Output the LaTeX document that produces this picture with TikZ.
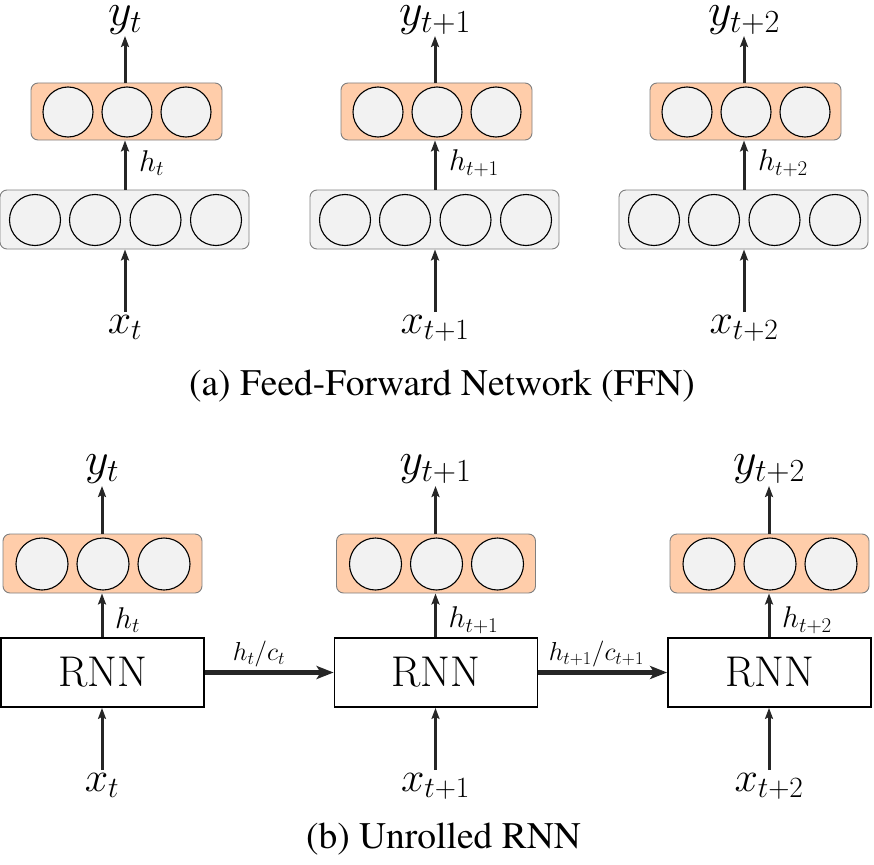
\documentclass[tikz,border=0pt]{standalone}
\usepackage{fix-cm}
\usepackage[T1]{fontenc}
\usepackage[no-math]{fontspec}
\usetikzlibrary{arrows.meta}
\definecolor{peach}{HTML}{FFCDAA}
\definecolor{cellgray}{HTML}{F2F2F2}
\definecolor{boxedge}{HTML}{7F7F7F}
\newcommand{\capfnt}{\fontencoding{T1}\fontfamily{ptm}\selectfont}
\tikzset{
  cell/.style={circle, draw=black, line width=1.1pt, fill=cellgray, minimum size=51pt, inner sep=0pt},
  outlayer/.style={draw=boxedge, fill=peach, rounded corners=7pt, line width=0.9pt, inner sep=0pt},
  inlayer/.style={draw=boxedge, fill=cellgray, rounded corners=7pt, line width=0.9pt, inner sep=0pt},
  rnnbox/.style={draw=black, fill=white, line width=1.8pt, minimum width=203pt, minimum height=69pt, inner sep=0pt, font=\fontsize{43}{50}\selectfont},
  flow/.style={-{Stealth[length=11pt,width=8pt,inset=2pt]}, line width=3pt, draw=black!85},
  statearrow/.style={-{Stealth[length=17pt,width=13pt,inset=4pt]}, line width=5pt, draw=black!85},
  xlab/.style={font=\fontsize{42}{50}\selectfont, inner sep=0pt},
  ylab/.style={font=\fontsize{46}{55}\selectfont, inner sep=0pt},
  hlab/.style={font=\fontsize{30}{36}\selectfont, inner sep=0pt, anchor=west},
  statelab/.style={font=\fontsize{26}{31}\selectfont, inner sep=3pt, above},
  caption/.style={font=\capfnt\fontsize{37.5}{45}\selectfont, inner sep=0pt, anchor=base}
}
\begin{document}
\begin{tikzpicture}[x=1pt,y=-1pt]
\useasboundingbox (0,0) rectangle (874,864);
% ---------- (a) Feed-forward network ----------
\foreach \i/\c/\s in {1/125/t, 2/435/{t+1}, 3/744/{t+2}} {
  \node[inlayer, minimum width=249pt, minimum height=59pt] (gin\i) at (\c-0.5,219.5) {};
  \node[cell] (gina\i) at (\c-90,220) {};
  \node[cell] (ginb\i) at (\c-30,220) {};
  \node[cell] (ginc\i) at (\c+30.5,220) {};
  \node[cell] (gind\i) at (\c+91,220) {};
  \node[outlayer, minimum width=191pt, minimum height=57pt] (gout\i) at (\c+1.5,111.5) {};
  \node[cell, minimum size=50pt] (gouta\i) at (\c-57,112) {};
  \node[cell, minimum size=50pt] (goutb\i) at (\c+2,112) {};
  \node[cell, minimum size=50pt] (goutc\i) at (\c+61,112) {};
  \node[xlab, anchor=north] (gx\i) at (\c,315) {$x_{\s}$};
  \node[ylab, anchor=south] (gy\i) at (\c,35) {$y_{\s}$};
  \node[hlab] (gh\i) at (\c+14,163) {$h_{\s}$};
  \draw[flow] ([yshift=3pt]gx\i.north) -- (gx\i.north |- gin\i.south);
  \draw[flow] (gx\i.north |- gin\i.north) -- (gx\i.north |- gout\i.south);
  \draw[flow] (gx\i.north |- gout\i.north) -- ([yshift=-1pt]gy\i.south);
}
\node[caption] (capa) at (442,395) {(a) Feed-Forward Network (FFN)};
% ---------- (b) Unrolled RNN ----------
\foreach \i/\c/\s in {1/102/t, 2/435.5/{t+1}, 3/769/{t+2}} {
  \node[outlayer, minimum width=199pt, minimum height=59pt] (bout\i) at (\c+0.5,563.5) {};
  \node[cell, minimum size=52pt] (bouta\i) at (\c-60,564) {};
  \node[cell, minimum size=52pt] (boutb\i) at (\c+1,564) {};
  \node[cell, minimum size=52pt] (boutc\i) at (\c+62,564) {};
  \node[rnnbox] (rnn\i) at (\c+0.5,672.5) {RNN};
  \node[xlab, anchor=north] (bx\i) at (\c,773) {$x_{\s}$};
  \node[ylab, anchor=south] (by\i) at (\c,484) {$y_{\s}$};
  \node[hlab] (bh\i) at (\c+13,620) {$h_{\s}$};
  \draw[flow] ([yshift=3pt]bx\i.north) -- (bx\i.north |- rnn\i.south);
  \draw[flow] (bx\i.north |- rnn\i.north) -- (bx\i.north |- bout\i.south);
  \draw[flow] (bx\i.north |- bout\i.north) -- ([yshift=-2pt]by\i.south);
}
\draw[statearrow] (rnn1.east) -- (rnn2.west) node[statelab, pos=0.42] (s1) {$h_t/c_t$};
\draw[statearrow] (rnn2.east) -- (rnn3.west) node[statelab, pos=0.45] (s2) {$h_{t+1}/c_{t+1}$};
\node[caption] (capb) at (443.5,848) {(b) Unrolled RNN};
\end{tikzpicture}
\end{document}
